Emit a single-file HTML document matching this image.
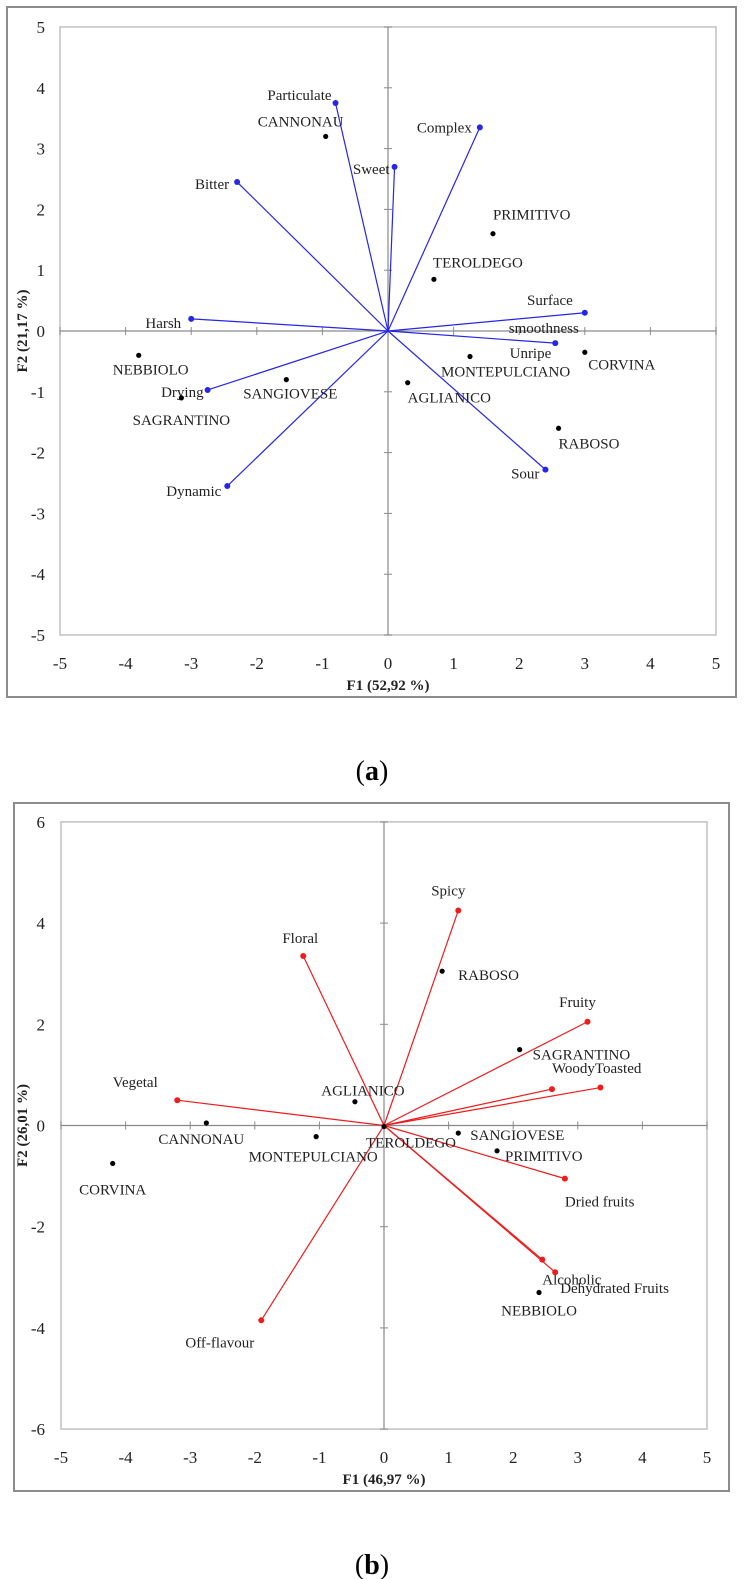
<!DOCTYPE html>
<html><head><meta charset="utf-8"><style>
html,body{margin:0;padding:0;background:#fff;}
svg{display:block;font-family:"Liberation Serif",serif;}
</style></head><body>
<svg id="s" width="744" height="1579" viewBox="0 0 744 1579" xmlns="http://www.w3.org/2000/svg"></svg>
<script>
// ---------- Chart (a) data ----------
const aVarNames = ["Particulate","Sweet","Complex","Bitter","Harsh","Surface smoothness","Unripe","Drying","Dynamic","Sour"];
const aVarX = [-0.8,0.1,1.4,-2.3,-3.0,3.0,2.55,-2.75,-2.45,2.4];
const aVarY = [3.75,2.7,3.35,2.45,0.2,0.3,-0.2,-0.97,-2.55,-2.28];
const aObsNames = ["CANNONAU","PRIMITIVO","TEROLDEGO","NEBBIOLO","SAGRANTINO","SANGIOVESE","MONTEPULCIANO","AGLIANICO","CORVINA","RABOSO"];
const aObsX = [-0.95,1.6,0.7,-3.8,-3.15,-1.55,1.25,0.3,3.0,2.6];
const aObsY = [3.2,1.6,0.85,-0.4,-1.1,-0.8,-0.42,-0.85,-0.35,-1.6];
const aYTicks = [5,4,3,2,1,0,-1,-2,-3,-4,-5];
const aXTicks = [-5,-4,-3,-2,-1,0,1,2,3,4,5];
// ---------- Chart (b) data ----------
const bVarNames = ["Spicy","Floral","Fruity","Woody","Toasted","Vegetal","Dried fruits","Alcoholic","Dehydrated Fruits","Off-flavour"];
const bVarX = [1.15,-1.25,3.15,2.6,3.35,-3.2,2.8,2.45,2.65,-1.9];
const bVarY = [4.25,3.35,2.05,0.72,0.75,0.5,-1.05,-2.65,-2.9,-3.85];
const bObsNames = ["RABOSO","SAGRANTINO","AGLIANICO","CANNONAU","MONTEPULCIANO","TEROLDEGO","SANGIOVESE","PRIMITIVO","CORVINA","NEBBIOLO"];
const bObsX = [0.9,2.1,-0.45,-2.75,-1.05,0.0,1.15,1.75,-4.2,2.4];
const bObsY = [3.05,1.5,0.47,0.05,-0.22,-0.02,-0.15,-0.5,-0.75,-3.3];
const bYTicks = [6,4,2,0,-2,-4,-6];
const bXTicks = [-5,-4,-3,-2,-1,0,1,2,3,4,5];

// label layout (anchor, dx, dy in px) — styling only
const aVarLab = {"Particulate":["end",-4,-8],"Sweet":["end",-5,2],"Complex":["end",-8,0],"Bitter":["end",-8,2],"Harsh":["end",-10,4],
 "Unripe":["end",-4,10],"Drying":["end",-4,2],"Dynamic":["end",-6,5],"Sour":["end",-6,4]};
const aObsLab = {"CANNONAU":["middle",-25,-15],"PRIMITIVO":["start",0,-19],"TEROLDEGO":["start",-1,-17],"NEBBIOLO":["middle",12,14],
 "SAGRANTINO":["middle",0,22],"SANGIOVESE":["middle",4,14],"MONTEPULCIANO":["start",-29,15],"AGLIANICO":["start",0,15],"CORVINA":["middle",37,12],"RABOSO":["start",0,15]};
const bVarLab = {"Spicy":["middle",-10,-20],"Floral":["middle",-3,-18],"Fruity":["middle",-10,-20],"Vegetal":["middle",-42,-18],
 "Dried fruits":["start",0,23],"Alcoholic":["start",0,20],"Dehydrated Fruits":["start",5,16],"Off-flavour":["end",-7,22]};
const bObsLab = {"RABOSO":["start",16,4],"SAGRANTINO":["start",13,5],"AGLIANICO":["middle",8,-11],"CANNONAU":["middle",-5,16],
 "MONTEPULCIANO":["middle",-3,20],"TEROLDEGO":["middle",27,16],"SANGIOVESE":["start",12,2],"PRIMITIVO":["start",8,5],"CORVINA":["middle",0,26],"NEBBIOLO":["middle",0,18]};

const NS="http://www.w3.org/2000/svg";
const svg=document.getElementById('s');
function mk(tag,attrs,parent){const e=document.createElementNS(NS,tag);for(const k in attrs)e.setAttribute(k,attrs[k]);(parent||svg).appendChild(e);return e;}
function txt(s,attrs,parent){const e=mk('text',attrs,parent);e.textContent=s;return e;}

function chart(cfg){
  const g=mk('g',{});
  
  
  const sx=v=>cfg.cx+v*cfg.kx, sy=v=>cfg.cy-v*cfg.ky;
  const border=mk('rect',{x:cfg.ox,y:cfg.oy,width:cfg.ow,height:cfg.oh,fill:'none',stroke:'#8c8c8c','stroke-width':2},g);
  
  
  const plot=mk('rect',{x:sx(-5),y:sy(cfg.ymax),width:sx(5)-sx(-5),height:sy(-cfg.ymax)-sy(cfg.ymax),fill:'none',stroke:'#c0c0c0','stroke-width':1.5},g);
  
  
  const xa=mk('line',{x1:sx(-5),x2:sx(5),y1:sy(0),y2:sy(0),stroke:'#8a8a8a','stroke-width':1.2},g);
  
  
  const ya=mk('line',{x1:sx(0),x2:sx(0),y1:sy(cfg.ymax),y2:sy(-cfg.ymax),stroke:'#8a8a8a','stroke-width':1.2},g);
  
  
  cfg.yt.forEach(t=>{
    mk('line',{x1:sx(0)-4,x2:sx(0)+4,y1:sy(t),y2:sy(t),stroke:'#8a8a8a','stroke-width':1},g);
    const l=txt(String(t),{x:45,y:sy(t)+6,'text-anchor':'end','font-size':17,fill:'#222'},g);
    
    
  });
  cfg.xt.forEach(t=>{
    mk('line',{x1:sx(t),x2:sx(t),y1:sy(0)-4,y2:sy(0)+4,stroke:'#8a8a8a','stroke-width':1},g);
    const l=txt(String(t),{x:sx(t),y:cfg.xtY,'text-anchor':'middle','font-size':17,fill:'#222'},g);
    
    
  });
  const xt=txt(cfg.xtitle,{x:sx(0),y:cfg.xtY+21,'text-anchor':'middle','font-size':15,'font-weight':'bold',fill:'#222'},g);
  
  
  const yt=txt(cfg.ytitle,{x:0,y:0,'text-anchor':'middle','font-size':15,'font-weight':'bold',fill:'#222',transform:`translate(27,${sy(0)}) rotate(-90)`},g);
  
  
  // vectors
  cfg.vn.forEach((n,i)=>{
    const x=sx(cfg.vx[i]),y=sy(cfg.vy[i]);
    const ln=mk('line',{x1:sx(0),y1:sy(0),x2:x,y2:y,stroke:cfg.col,'stroke-width':1.2},g);
    
    
    const c=mk('circle',{cx:x,cy:y,r:3,fill:cfg.col},g);
    
    
    const L=cfg.vl[n];
    if(L){
      const t=txt(n,{x:x+L[1],y:y+L[2]+5,'text-anchor':L[0],'font-size':15,fill:'#222'},g);
      
      
    }
  });
  // observations
  cfg.on.forEach((n,i)=>{
    const x=sx(cfg.ox_[i]),y=sy(cfg.oy_[i]);
    const c=mk('circle',{cx:x,cy:y,r:2.6,fill:'#000'},g);
    
    
    const L=cfg.ol[n];
    const t=txt(n,{x:x+L[1],y:y+L[2]+5,'text-anchor':L[0],'font-size':15,fill:'#222'},g);
    
    
  });
  return {sx,sy,g};
}

const A=chart({name:'biplot-a',ox:7,oy:7,ow:729,oh:690,cx:388,cy:331,kx:65.6,ky:60.8,ymax:5,yt:aYTicks,xt:aXTicks,xtY:669,
  xtitle:'F1 (52,92 %)',ytitle:'F2 (21,17 %)',col:'#2626e6',vn:aVarNames,vx:aVarX,vy:aVarY,vl:aVarLab,on:aObsNames,ox_:aObsX,oy_:aObsY,ol:aObsLab});
// split label for Surface smoothness
(function(){const i=aVarNames.indexOf("Surface smoothness");const x=A.sx(aVarX[i]),y=A.sy(aVarY[i]);
 const t1=txt("Surface",{x:x-12,y:y-8,'text-anchor':'end','font-size':15,fill:'#222'},A.g);
 
 
 const t2=txt("smoothness",{x:x-6,y:y+20,'text-anchor':'end','font-size':15,fill:'#222'},A.g);
 
 })();

const B=chart({name:'biplot-b',ox:14,oy:803,ow:715,oh:688,cx:384,cy:1125.5,kx:64.6,ky:50.6,ymax:6,yt:bYTicks,xt:bXTicks,xtY:1463,
  xtitle:'F1 (46,97 %)',ytitle:'F2 (26,01 %)',col:'#ee1c1c',vn:bVarNames,vx:bVarX,vy:bVarY,vl:bVarLab,on:bObsNames,ox_:bObsX,oy_:bObsY,ol:bObsLab});
(function(){const i=bVarNames.indexOf("Woody");const x=B.sx(bVarX[i]),y=B.sy(bVarY[i]);
 const t=txt("WoodyToasted",{x:x,y:y-16,'text-anchor':'start','font-size':15,fill:'#222'},B.g);
 
 })();

const ca=txt('',{x:372,y:780,'text-anchor':'middle','font-size':28,fill:'#000'});
ca.innerHTML='(<tspan font-weight="bold">a</tspan>)';


const cb=txt('',{x:372,y:1574,'text-anchor':'middle','font-size':28,fill:'#000'});
cb.innerHTML='(<tspan font-weight="bold">b</tspan>)';


</script>
</body></html>
